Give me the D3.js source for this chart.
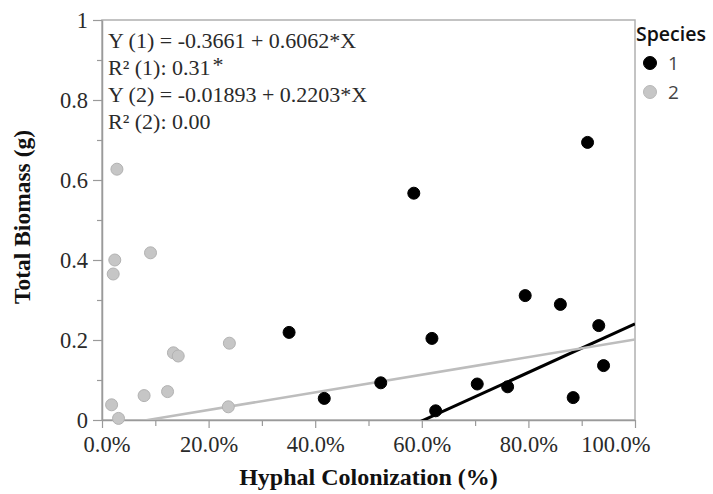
<!DOCTYPE html>
<html>
<head>
<meta charset="utf-8">
<script src="https://cdn.jsdelivr.net/npm/d3@7"></script>
<style>
  body { margin: 0; background: #fff; }
  svg { display: block; }
</style>
</head>
<body>
<svg id="chart"></svg>
<script>
// species 1 (black) : hyphal colonization fraction vs total biomass (g)
const sp1X = [0.351, 0.417, 0.523, 0.585, 0.619, 0.626, 0.704, 0.761, 0.794, 0.860, 0.911, 0.884, 0.932, 0.941];
const sp1Y = [0.219, 0.054, 0.093, 0.567, 0.204, 0.023, 0.090, 0.083, 0.311, 0.289, 0.694, 0.056, 0.236, 0.136];
// species 2 (grey)
const sp2X = [0.028, 0.024, 0.021, 0.091, 0.018, 0.031, 0.079, 0.123, 0.134, 0.143, 0.239, 0.237];
const sp2Y = [0.627, 0.400, 0.365, 0.418, 0.038, 0.004, 0.061, 0.071, 0.168, 0.160, 0.192, 0.033];

// fitted lines  Y = a + b*X
const fitNames = ["1", "2"];
const fitIntercept = [-0.3661, -0.01893];
const fitSlope = [0.6062, 0.2203];

const xTicks = [0, 0.2, 0.4, 0.6, 0.8, 1];
const xMinorTicks = [0.1, 0.3, 0.5, 0.7, 0.9];
const yTicks = [0, 0.2, 0.4, 0.6, 0.8, 1];
const yMinorTicks = [0.1, 0.3, 0.5, 0.7, 0.9];

const annotationLines = [
  "Y (1) = -0.3661 + 0.6062*X",
  "R\u00B2 (1): 0.31",
  "Y (2) = -0.01893 + 0.2203*X",
  "R\u00B2 (2): 0.00"
];

const width = 713, height = 494;
const margin = { top: 20, right: 78, bottom: 74, left: 102 };
const plotWidth = width - margin.left - margin.right;
const plotHeight = height - margin.top - margin.bottom;

const serif = "'Liberation Serif', 'Times New Roman', serif";
const sans = "'Open Sans', 'Noto Sans', sans-serif";
const axisGrey = "#9a9a9a";
const textCol = "#2a2a2a";

const color = d3.scaleOrdinal().domain(fitNames).range(["#000000", "#c6c6c6"]);

const svg = d3.select("#chart").attr("width", width).attr("height", height);

const xAxis = d3.scaleLinear().domain([0, 1]).range([0, plotWidth]);
const yAxis = d3.scaleLinear().domain([0, 1]).range([plotHeight, 0]);

const plotArea = svg.append("g")
  .attr("transform", `translate(${margin.left}, ${margin.top})`);

plotArea.append("clipPath").attr("id", "clip")
  .append("rect").attr("width", plotWidth).attr("height", plotHeight);

// frame
plotArea.append("rect")
  .attr("width", plotWidth).attr("height", plotHeight)
  .attr("fill", "none").attr("stroke", "#b0b0b0").attr("stroke-width", 1.5);

function styleAxis(g) {
  g.select(".domain").attr("stroke", axisGrey).attr("stroke-width", 1.5);
  g.selectAll(".tick line").attr("stroke", axisGrey).attr("stroke-width", 1.2);
  g.selectAll(".tick text").attr("fill", textCol)
    .attr("font-family", serif).attr("font-size", 22.5);
}

// x axis
const gx = plotArea.append("g")
  .attr("transform", `translate(0, ${plotHeight})`)
  .call(d3.axisBottom(xAxis).tickValues(xTicks).tickFormat(d3.format(".1%"))
    .tickSizeInner(8).tickSizeOuter(0).tickPadding(8))
  .call(styleAxis);
gx.selectAll(".tick text")
  .attr("text-anchor", (d, i) => i === 0 ? "start" : (i === xTicks.length - 1 ? "end" : "middle"))
  .attr("dx", (d, i) => i === 0 ? -19 : (i === xTicks.length - 1 ? 15 : 0));

plotArea.append("g")
  .attr("transform", `translate(0, ${plotHeight})`)
  .call(d3.axisBottom(xAxis).tickValues(xMinorTicks).tickFormat("").tickSizeInner(6).tickSizeOuter(0))
  .call(styleAxis)
  .select(".domain").remove();

// y axis
plotArea.append("g")
  .call(d3.axisLeft(yAxis).tickValues(yTicks).tickFormat(d3.format("~g"))
    .tickSizeInner(9).tickSizeOuter(0).tickPadding(5))
  .call(styleAxis);

plotArea.append("g")
  .call(d3.axisLeft(yAxis).tickValues(yMinorTicks).tickFormat("").tickSizeInner(5).tickSizeOuter(0))
  .call(styleAxis)
  .select(".domain").remove();

// axis titles
svg.append("text")
  .attr("x", margin.left + plotWidth / 2).attr("y", 485)
  .attr("text-anchor", "middle")
  .attr("font-family", serif).attr("font-weight", "bold").attr("font-size", 24)
  .attr("fill", "#111")
  .text("Hyphal Colonization (%)");

svg.append("text")
  .attr("transform", `translate(30, ${margin.top + 197}) rotate(-90)`)
  .attr("text-anchor", "middle")
  .attr("font-family", serif).attr("font-weight", "bold").attr("font-size", 23.5)
  .attr("fill", "#111")
  .text("Total Biomass (g)");

// fit lines
const fitLine = d3.line()
  .x(d => xAxis(d[0]))
  .y(d => yAxis(d[1]));

const fits = fitNames.map((name, i) => ({
  name: name,
  pts: [0, 1].map(x => [x, fitIntercept[i] + fitSlope[i] * x])
}));

plotArea.append("g").attr("clip-path", "url(#clip)")
  .selectAll("path")
  .data(fits)
  .enter()
  .append("path")
  .attr("fill", "none")
  .attr("stroke", d => d.name === "1" ? "#000" : "#bdbdbd")
  .attr("stroke-width", d => d.name === "1" ? 3 : 2.5)
  .attr("d", d => fitLine(d.pts));

// points
const points = [
  ...sp2X.map((x, i) => ({ group: "2", x: x, y: sp2Y[i] })),
  ...sp1X.map((x, i) => ({ group: "1", x: x, y: sp1Y[i] }))
];

plotArea.append("g")
  .selectAll("circle")
  .data(points)
  .enter()
  .append("circle")
  .attr("cx", d => xAxis(d.x))
  .attr("cy", d => yAxis(d.y))
  .attr("r", 6)
  .attr("fill", d => color(d.group))
  .attr("stroke", d => d.group === "1" ? "#000" : "#b2b2b2")
  .attr("stroke-width", 1);

// equation annotation
const ann = plotArea.append("g")
  .attr("font-family", serif).attr("font-size", 22).attr("fill", textCol);

ann.selectAll("text")
  .data(annotationLines)
  .enter()
  .append("text")
  .attr("x", 6)
  .attr("y", (d, i) => 28 + i * 27)
  .text(d => d);

ann.selectAll("text").filter((d, i) => i === 1)
  .append("tspan")
  .attr("dx", 2).attr("dy", -3)
  .attr("font-size", 22)
  .text("*");

// legend
const legend = svg.append("g").attr("transform", "translate(636, 0)");
legend.append("text")
  .attr("x", 0).attr("y", 41)
  .attr("font-family", sans).attr("font-weight", 600).attr("font-size", 19.5)
  .attr("fill", "#111")
  .text("Species");

const legendItems = legend.selectAll(".legend_item")
  .data(fitNames)
  .enter()
  .append("g")
  .attr("class", "legend_item")
  .attr("transform", (d, i) => `translate(0, ${63 + i * 29})`);

legendItems.append("circle")
  .attr("cx", 14).attr("cy", 0).attr("r", 6.5)
  .attr("fill", d => color(d))
  .attr("stroke", d => d === "1" ? "#000" : "#b8b8b8");

legendItems.append("text")
  .attr("x", 32).attr("y", 0).attr("dy", "0.36em")
  .attr("font-family", sans).attr("font-size", 19).attr("fill", "#444")
  .text(d => d);
</script>
</body>
</html>
